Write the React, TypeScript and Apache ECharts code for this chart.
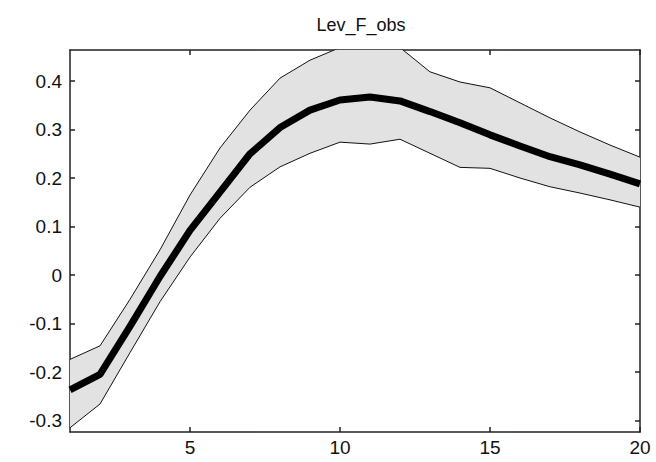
import React, { useEffect, useRef } from "react";
import * as echarts from "echarts";

const steps = [1, 2, 3, 4, 5, 6, 7, 8, 9, 10, 11, 12, 13, 14, 15, 16, 17, 18, 19, 20];
const meanValues = [-0.237, -0.205, -0.106, -0.003, 0.092, 0.171, 0.25, 0.304, 0.34, 0.361, 0.367, 0.359, 0.337, 0.314, 0.289, 0.266, 0.244, 0.227, 0.208, 0.188];
const upperValues = [-0.174, -0.146, -0.05, 0.052, 0.165, 0.262, 0.34, 0.406, 0.443, 0.469, 0.475, 0.469, 0.419, 0.398, 0.386, 0.355, 0.324, 0.295, 0.268, 0.243];
const lowerValues = [-0.315, -0.266, -0.16, -0.055, 0.037, 0.117, 0.181, 0.223, 0.251, 0.274, 0.27, 0.28, 0.251, 0.222, 0.22, 0.2, 0.182, 0.169, 0.155, 0.14];
const xTicks = [5, 10, 15, 20];
const yTicks = [-0.3, -0.2, -0.1, 0, 0.1, 0.2, 0.3, 0.4];
const titleText = "Lev_F_obs";
const xMin = 1;
const xMax = 20;
const yMin = -0.3237;
const yMax = 0.464;

export default function App() {
  const ref = useRef<HTMLDivElement>(null);
  useEffect(() => {
    document.body.style.margin = "0";
    const chart = echarts.init(ref.current!, null, { renderer: "svg" });
    const font = "'Liberation Sans', Arial, sans-serif";
    const lineStyle = { color: "#222", width: 1.5 };
    const pair = (vals: number[]) => steps.map((s, i) => [s, vals[i]]);
    chart.setOption({
      animation: false,
      title: {
        text: titleText,
        left: 356,
        top: 11,
        textAlign: "center",
        textStyle: { fontFamily: font, fontSize: 18, fontWeight: "normal", color: "#111" },
      },
      grid: { left: 70, right: 16, top: 50, bottom: 30, containLabel: false },
      xAxis: [
        {
          type: "value",
          min: xMin,
          max: xMax,
          position: "bottom",
          axisLine: { show: true, onZero: false, lineStyle },
          axisTick: { show: true, inside: true, length: 5, customValues: xTicks, lineStyle },
          axisLabel: { customValues: xTicks, margin: 6, fontFamily: font, fontSize: 19, color: "#111" },
          splitLine: { show: false },
        },
        {
          type: "value",
          min: xMin,
          max: xMax,
          position: "top",
          axisLine: { show: true, onZero: false, lineStyle },
          axisTick: { show: true, inside: true, length: 5, customValues: xTicks, lineStyle },
          axisLabel: { show: false },
          splitLine: { show: false },
        },
      ],
      yAxis: [
        {
          type: "value",
          min: yMin,
          max: yMax,
          position: "left",
          axisLine: { show: true, onZero: false, lineStyle },
          axisTick: { show: true, inside: true, length: 5, customValues: yTicks, lineStyle },
          axisLabel: {
            customValues: yTicks,
            margin: 8,
            fontFamily: font,
            fontSize: 19,
            color: "#111",
            formatter: (v: number) => String(Math.round(v * 10) / 10),
          },
          splitLine: { show: false },
        },
        {
          type: "value",
          min: yMin,
          max: yMax,
          position: "right",
          axisLine: { show: true, onZero: false, lineStyle },
          axisTick: { show: true, inside: true, length: 5, customValues: yTicks, lineStyle },
          axisLabel: { show: false },
          splitLine: { show: false },
        },
      ],
      series: [
        {
          type: "custom",
          name: "band",
          data: [0],
          clip: true,
          silent: true,
          z: 1,
          renderItem: (params: any, api: any) => {
            const up = steps.map((s, i) => api.coord([s, upperValues[i]]));
            const lo = steps.map((s, i) => api.coord([s, lowerValues[i]])).reverse();
            return {
              type: "polygon",
              shape: { points: up.concat(lo) },
              style: { fill: "#e2e2e2", stroke: "none" },
            };
          },
        },
        {
          type: "line",
          name: "upper",
          data: pair(upperValues),
          symbol: "none",
          lineStyle: { color: "#111", width: 1 },
          clip: true,
          z: 2,
        },
        {
          type: "line",
          name: "lower",
          data: pair(lowerValues),
          symbol: "none",
          lineStyle: { color: "#111", width: 1 },
          clip: true,
          z: 2,
        },
        {
          type: "line",
          name: "mean",
          data: pair(meanValues),
          symbol: "none",
          lineStyle: { color: "#000", width: 7 },
          clip: true,
          z: 3,
        },
      ],
    });
    return () => chart.dispose();
  }, []);
  return <div ref={ref} style={{ width: 656, height: 462, background: "#fff" }} />;
}
